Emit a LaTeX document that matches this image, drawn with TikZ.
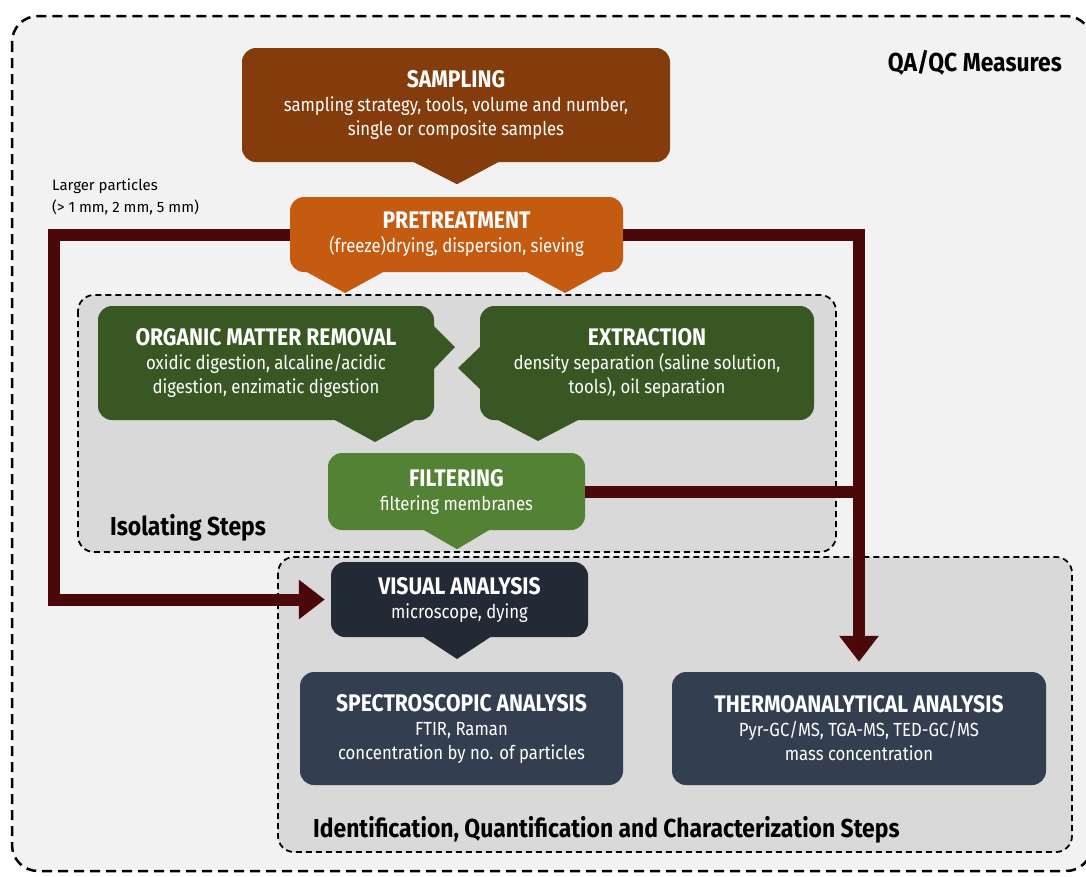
\documentclass[tikz,border=0pt]{standalone}
\usepackage{fontspec}
\setmainfont[FakeStretch=0.88]{Fira Sans}
\newfontfamily\smallfont{Fira Sans}
\usetikzlibrary{arrows.meta,calc}
\definecolor{outerbg}{HTML}{F2F2F2}
\definecolor{groupbg}{HTML}{D9D9D9}
\definecolor{sampc}{HTML}{843C0C}
\definecolor{prec}{HTML}{C55A11}
\definecolor{greenc}{HTML}{385723}
\definecolor{filtc}{HTML}{548235}
\definecolor{visc}{HTML}{222A35}
\definecolor{anac}{HTML}{333F50}
\definecolor{connc}{HTML}{4A0808}
\newcommand{\ttl}[1]{{\fontsize{24}{24}\selectfont\bfseries #1}}
\begin{document}
\begin{tikzpicture}[x=1pt,y=-1pt,
  box/.style={rounded corners=14pt, text=white, align=center, inner sep=0pt,
    font=\fontsize{19}{24}\selectfont},
  group/.style={draw=black, fill=groupbg, line width=1.8pt, dash pattern=on 6pt off 4pt, rounded corners=16pt},
  grouplabel/.style={anchor=west, font=\fontsize{26}{26}\selectfont\bfseries, inner sep=0pt},
  conn/.style={draw=connc, line width=12pt, line join=miter},
  arr/.style={conn, -{Triangle[length=26pt,width=38pt]}}
]
\useasboundingbox (0,0) rectangle (1086,876);
\fill[white] (0,0) rectangle (1086,876);
\begin{scope}
\clip (0,0) rectangle (1086,876);
\draw[fill=outerbg, line width=2.5pt, dash pattern=on 10pt off 6pt, rounded corners=26pt] (12,16) rectangle (1092,871);
\end{scope}

\node[anchor=east, font=\fontsize{26}{26}\selectfont\bfseries, inner sep=0pt] (qaqc) at (1062,63) {QA/QC Measures};

% groups
\draw[group] (78,295) rectangle (836,552);
\draw[group] (278,557) rectangle (1072,852);
\node[grouplabel] (isol) at (110,528) {Isolating Steps};
\node[grouplabel] (ident) at (313,830) {Identification, Quantification and Characterization Steps};

% Sampling
\node[box, fill=sampc, minimum width=428pt, minimum height=114pt] (samp) at (456,105)
  {\ttl{SAMPLING}\\ sampling strategy, tools, volume and number,\\ single or composite samples};
\fill[sampc] ($(samp.south)+(-44,-1)$) -- ($(samp.south)+(44,-1)$) -- ($(samp.south)+(1,22)$) -- cycle;

% Pretreatment
\node[box, fill=prec, minimum width=333pt, minimum height=75pt] (pre) at (456.5,234.5)
  {\ttl{PRETREATMENT}\\ (freeze)drying, dispersion, sieving};
\fill[prec] (305,271) -- (385,271) -- (345,293) -- cycle;
\fill[prec] (525,271) -- (605,271) -- (565,293) -- cycle;

% Organic matter removal
\node[box, fill=greenc, minimum width=336pt, minimum height=114pt] (org) at (266,363)
  {\ttl{ORGANIC MATTER REMOVAL}\\ oxidic digestion, alcaline/acidic\\ digestion, enzimatic digestion};
\fill[greenc] (433,325) -- (455,347) -- (433,370) -- cycle;
\fill[greenc] (333,419) -- (417,419) -- (375,442) -- cycle;

% Extraction
\node[box, fill=greenc, minimum width=334pt, minimum height=114pt] (ext) at (647,363)
  {\ttl{EXTRACTION}\\ density separation (saline solution,\\ tools), oil separation};
\fill[greenc] (481,346) -- (458,368) -- (481,390) -- cycle;
\fill[greenc] (496,419) -- (580,419) -- (538,441) -- cycle;

% Filtering
\node[box, fill=filtc, minimum width=257pt, minimum height=77pt] (filt) at (456.5,491.5)
  {\ttl{FILTERING}\\ filtering membranes};
\fill[filtc] ($(filt.south)+(-34,-1)$) -- ($(filt.south)+(34,-1)$) -- ($(filt.south)+(0.5,19)$) -- cycle;

% Visual analysis
\node[box, fill=visc, minimum width=257pt, minimum height=75pt] (vis) at (459.5,599.5)
  {\ttl{VISUAL ANALYSIS}\\ microscope, dying};
\fill[visc] (422,636) -- (492,636) -- (457,659) -- cycle;

% Spectroscopic / Thermoanalytical
\node[box, fill=anac, minimum width=323pt, minimum height=113pt] (spec) at (461.5,728.5)
  {\ttl{SPECTROSCOPIC ANALYSIS}\\ FTIR, Raman\\ concentration by no. of particles};
\node[box, fill=anac, minimum width=374pt, minimum height=113pt] (therm) at (859,728.5)
  {\ttl{THERMOANALYTICAL ANALYSIS}\\ Pyr-GC/MS, TGA-MS, TED-GC/MS\\ mass concentration};

% connectors
\coordinate (lft) at (54,599.5);
\draw[arr] (pre.west) -| (lft) -- ([xshift=-6pt]vis.west);
\draw[arr, shorten >=10pt] (pre.east) -| (therm.north);
\draw[conn] (filt.east) -- (filt.east -| therm.north);

\node[anchor=north west, align=left, inner sep=0pt, font=\smallfont\fontsize{15}{22}\selectfont] (large) at (52,179)
  {Larger particles\\ (> 1 mm, 2 mm, 5 mm)};
\end{tikzpicture}
\end{document}
